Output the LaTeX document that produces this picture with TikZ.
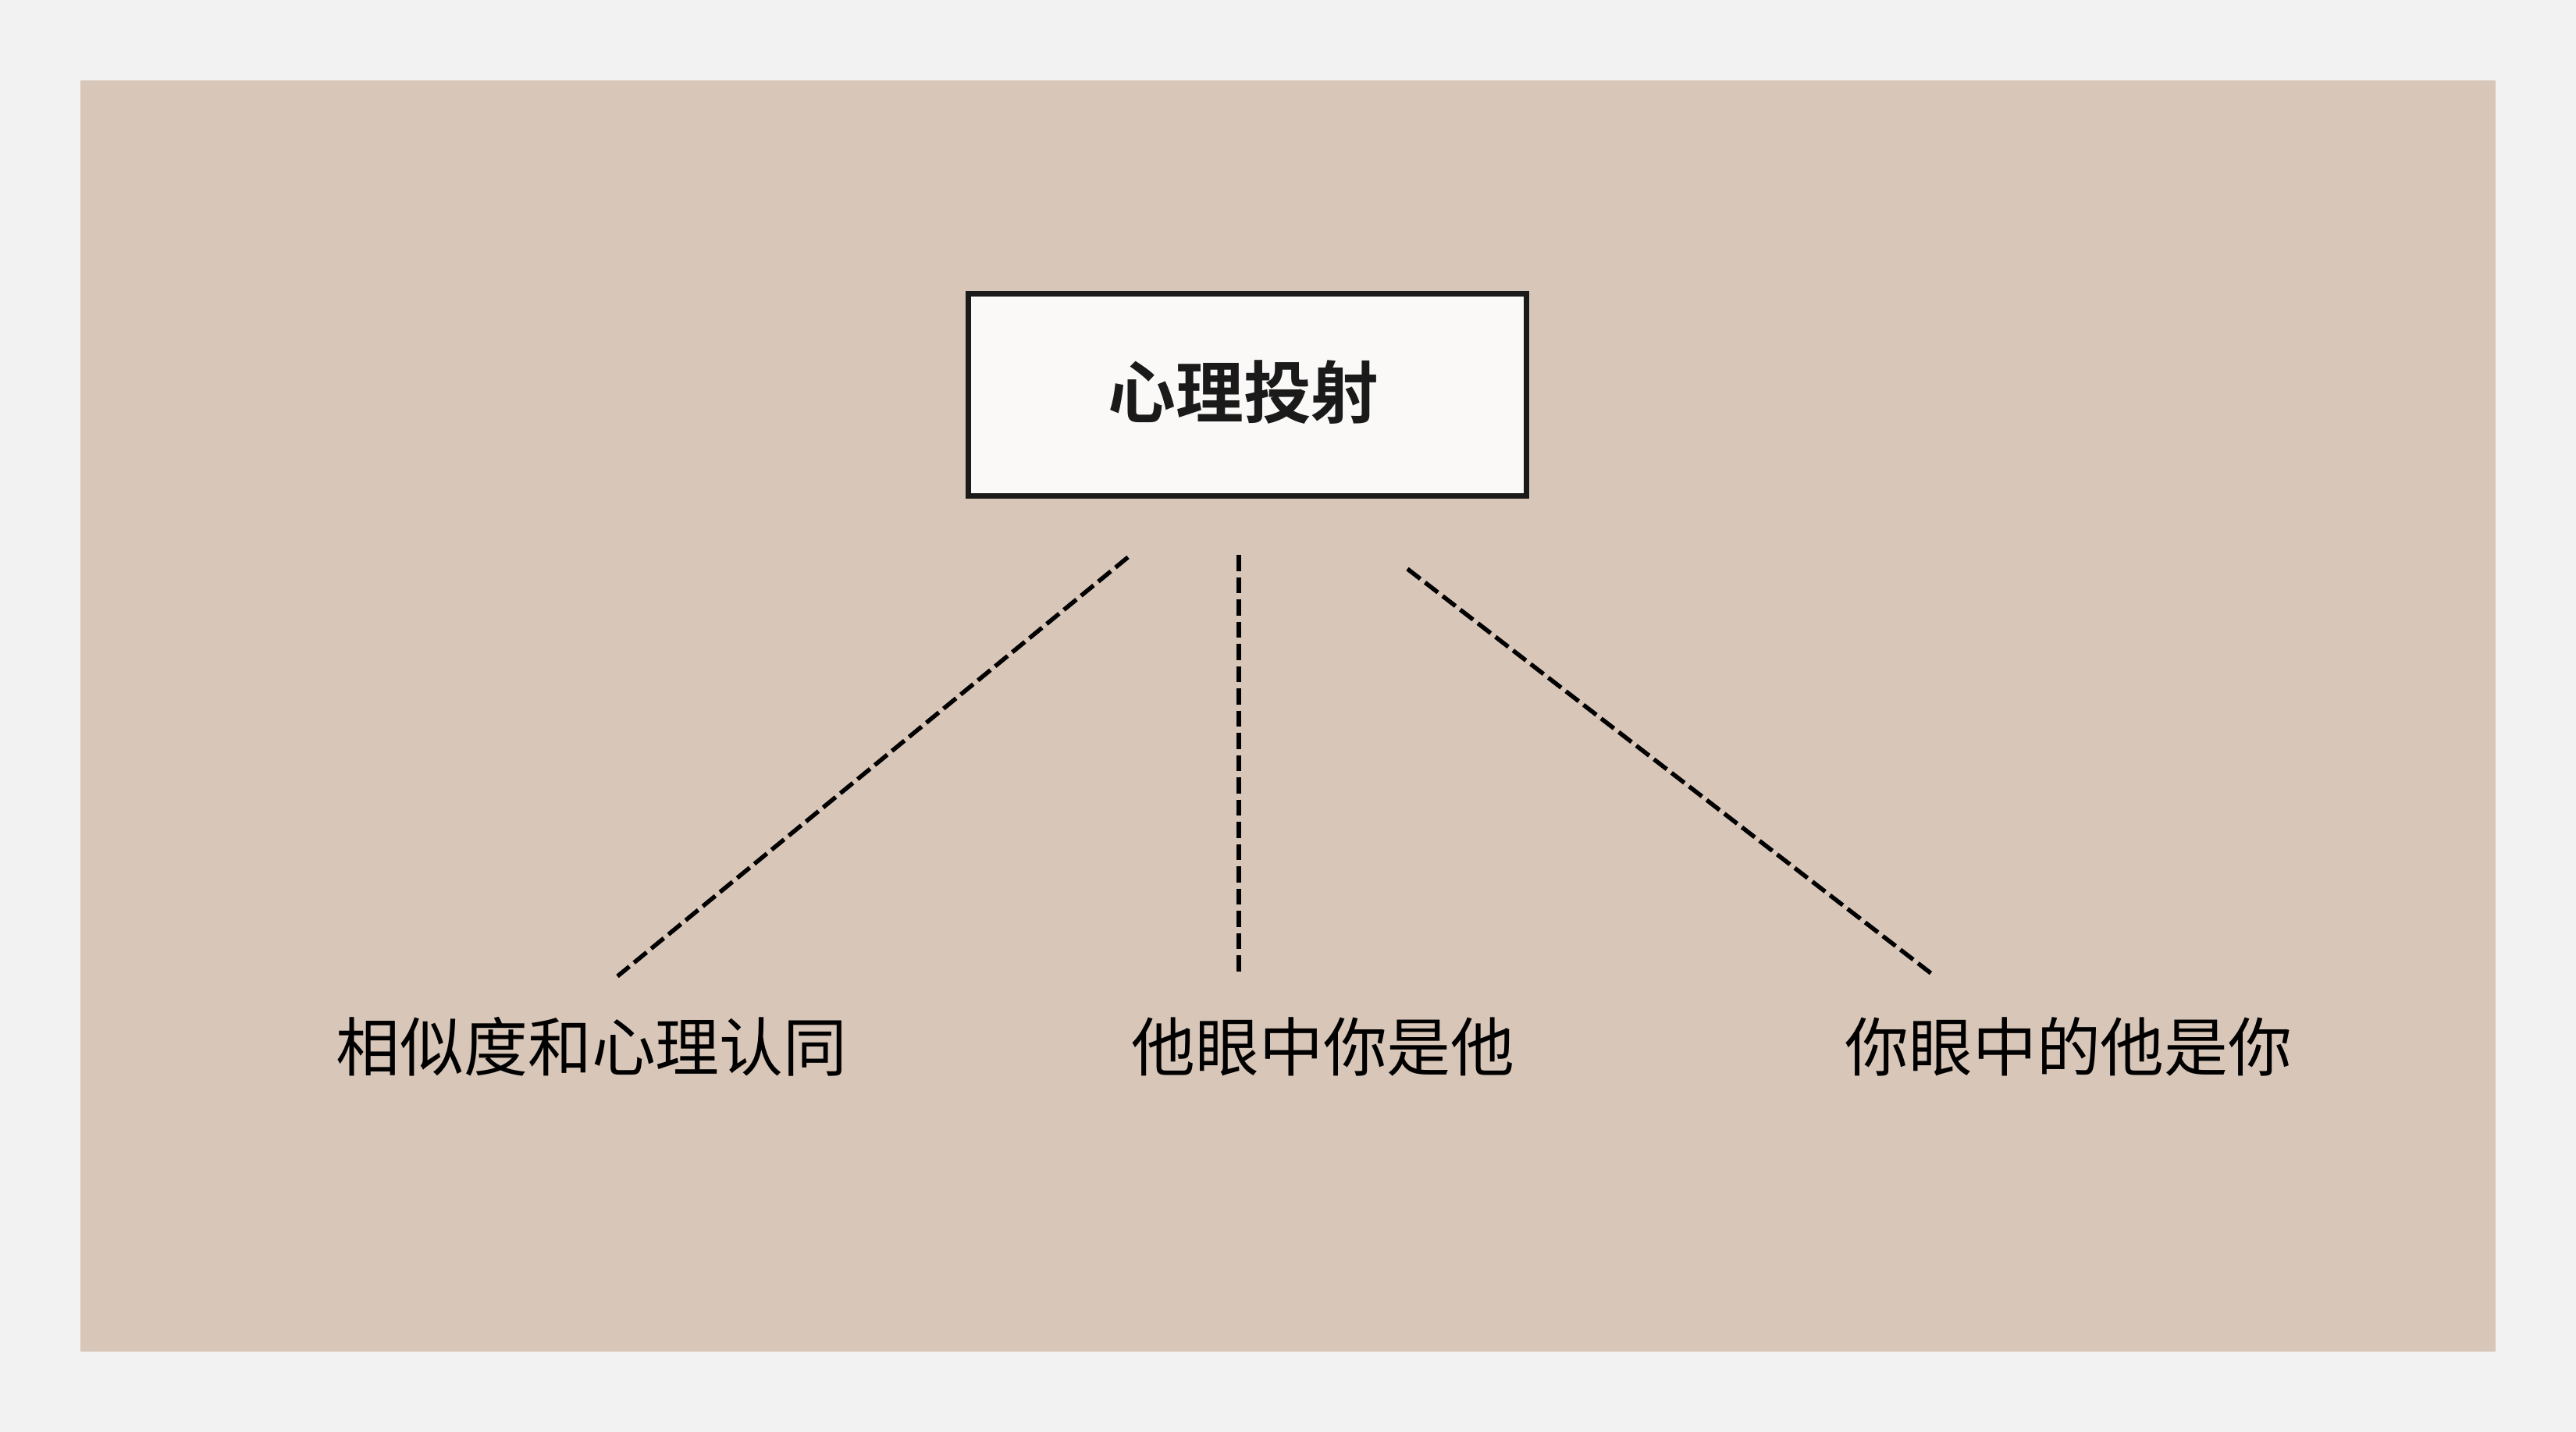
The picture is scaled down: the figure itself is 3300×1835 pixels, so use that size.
\documentclass[tikz,border=0pt]{standalone}
\usepackage{fontspec}
\newfontfamily\cjk{Noto Sans CJK SC}
\newfontfamily\cjkbold{Noto Sans CJK SC Bold}
\definecolor{outerbg}{HTML}{F2F2F2}
\definecolor{innerbg}{HTML}{D8C6B8}
\definecolor{boxfill}{HTML}{FAF9F7}
\definecolor{ink}{HTML}{1A1A1A}
\begin{document}
\begin{tikzpicture}[x=0.1mm,y=-0.1mm,
  titlebox/.style={draw=ink,line width=0.7mm,fill=boxfill,minimum width=71.5mm,minimum height=25.9mm,inner sep=0pt},
  titletext/.style={font=\cjkbold\fontsize{24.7pt}{26pt}\selectfont,text=ink},
  leaf/.style={inner sep=0pt,font=\cjk\fontsize{23.3pt}{25pt}\selectfont,text=black},
  link/.style={draw=black,line width=0.55mm,dash pattern=on 2.08mm off 0.77mm}]
\useasboundingbox (0,0) rectangle (3300,1835);
\fill[outerbg] (0,0) rectangle (3300,1835);
\fill[innerbg] (103,103) rectangle (3197,1732);
\node[titlebox] (box) at (1598,506) {};
\node[titletext,inner sep=0pt] (title) at (1593,503) {心理投射};
\node[leaf] (l1) at (758,1341) {相似度和心理认同};
\node[leaf] (l2) at (1695,1341) {他眼中你是他};
\node[leaf] (l3) at (2650,1341) {你眼中的他是你};
\coordinate (a1) at (1445,714);
\coordinate (b1) at (791,1251);
\coordinate (a2) at (1587,711);
\coordinate (b2) at (1587,1245);
\coordinate (a3) at (1803,729);
\coordinate (b3) at (2476,1249);
\draw[link] (a1) -- (b1);
\draw[link] (a2) -- (b2);
\draw[link] (a3) -- (b3);
\end{tikzpicture}
\end{document}
